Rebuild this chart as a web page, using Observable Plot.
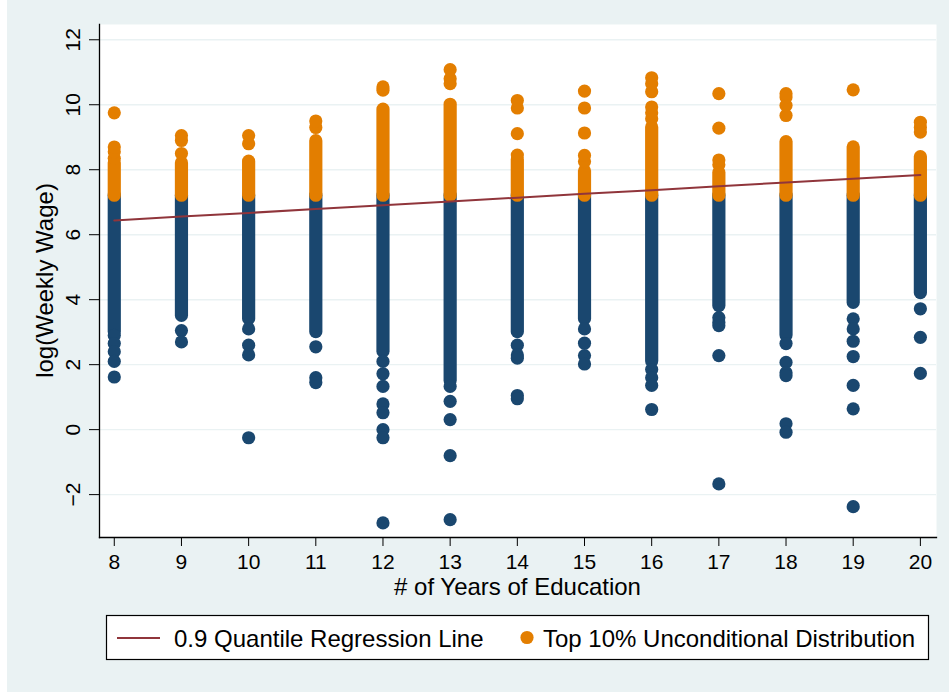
<!DOCTYPE html>
<html>
<head>
<meta charset="utf-8">
<script src="https://cdn.jsdelivr.net/npm/d3@7"></script>
<script src="https://cdn.jsdelivr.net/npm/@observablehq/plot@0.6"></script>
<style>
  html, body { margin: 0; padding: 0; background: #ffffff; }
  #chart { width: 949px; height: 692px; }
  #chart svg { display: block; }
</style>
</head>
<body>
<div id="chart"></div>
<script>
// Years of schooling shown on the x axis
const years = [8, 9, 10, 11, 12, 13, 14, 15, 16, 17, 18, 19, 20];

// Cut-off of the top 10% of the unconditional log weekly wage distribution
const top10Cut = 7.2;

// Lower end of the solid band of observations below the cut-off, per year
const bandLow = [3.0, 3.5, 3.4, 3.0, 2.4, 1.5, 3.0, 3.4, 2.1, 3.8, 2.9, 3.9, 4.2];
// Upper end of the solid band of observations above the cut-off, per year
const bandHigh = [8.2, 8.2, 8.25, 8.88, 9.85, 10.0, 8.3, 7.95, 9.3, 7.9, 8.85, 8.69, 8.39];

// Isolated low observations below the solid band, per year
const lowOutliers = [
  [2.9, 2.65, 2.4, 2.1, 1.62],
  [3.05, 2.7],
  [3.1, 2.6, 2.3, -0.25],
  [2.55, 1.6, 1.45],
  [2.1, 1.72, 1.33, 0.79, 0.52, 0.0, -0.25, -2.87],
  [1.33, 0.87, 0.31, -0.8, -2.77],
  [2.6, 2.3, 2.2, 1.05, 0.95],
  [3.1, 2.66, 2.28, 2.02],
  [1.85, 1.6, 1.36, 0.62],
  [3.45, 3.3, 3.2, 2.28, -1.67],
  [2.65, 2.07, 1.75, 1.66, 0.18, -0.08],
  [3.41, 3.1, 2.72, 2.25, 1.36, 0.64, -2.37],
  [3.72, 2.84, 1.73]
];

// Isolated high observations above the solid band, per year
const highOutliers = [
  [8.35, 8.55, 8.7, 9.75],
  [8.5, 8.9, 9.05],
  [8.8, 9.05],
  [9.3, 9.5],
  [10.45, 10.55],
  [10.65, 10.8, 11.08],
  [8.45, 9.11, 9.9, 10.13],
  [8.25, 8.44, 9.13, 9.9, 10.42],
  [9.57, 9.75, 9.93, 10.4, 10.65, 10.83],
  [8.15, 8.3, 9.28, 10.34],
  [9.67, 9.98, 10.24, 10.34],
  [10.46],
  [9.16, 9.3, 9.46]
];

// Fitted 0.9 quantile regression of log weekly wage on years of education
const qregFit = [6.44, 6.56, 6.67, 6.79, 6.91, 7.02, 7.14, 7.26, 7.37, 7.49, 7.61, 7.72, 7.84];

// Axis ticks
const xTicks = [8, 9, 10, 11, 12, 13, 14, 15, 16, 17, 18, 19, 20];
const yTicks = [-2, 0, 2, 4, 6, 8, 10, 12];

// Text
const xTitle = "# of Years of Education";
const yTitle = "log(Weekly Wage)";
const legendLine = "0.9 Quantile Regression Line";
const legendDot = "Top 10% Unconditional Distribution";

const navy = "#1a476f";
const orange = "#e37e00";
const maroon = "#90353b";
const panel = "#eaf2f3";
const font = "'Liberation Sans', Arial, Helvetica, sans-serif";
const dotR = 6.6;

// Tables built from the arrays above
const lowBands = years.map((x, i) => ({x, y1: bandLow[i], y2: top10Cut}));
const highBands = years.map((x, i) => ({x, y1: top10Cut, y2: bandHigh[i]}));
const lowPts = years.flatMap((x, i) => lowOutliers[i].map(y => ({x, y})));
const highPts = years.flatMap((x, i) => highOutliers[i].map(y => ({x, y})));
const fitPts = years.map((x, i) => ({x, y: qregFit[i]}));

const W = 949, H = 692;
const mL = 99, mR = 13, mT = 24, mB = 155;

const svg = Plot.plot({
  width: W,
  height: H,
  marginLeft: mL,
  marginRight: mR,
  marginTop: mT,
  marginBottom: mB,
  style: {fontFamily: font, fontSize: "21px", color: "#000", background: "transparent", overflow: "visible"},
  x: {domain: [7.78, 20.24]},
  y: {domain: [-3.32, 12.47]},
  marks: [
    Plot.frame({fill: "white", stroke: "none"}),
    Plot.gridY(yTicks, {stroke: panel, strokeOpacity: 1, strokeWidth: 1.4}),
    // dense part of each column: a run of overlapping markers
    Plot.ruleX(lowBands, {x: "x", y1: "y1", y2: "y2", stroke: navy, strokeWidth: dotR * 2, strokeLinecap: "round"}),
    Plot.dot(lowPts, {x: "x", y: "y", r: dotR, fill: navy, stroke: "none"}),
    Plot.ruleX(highBands, {x: "x", y1: "y1", y2: "y2", stroke: orange, strokeWidth: dotR * 2, strokeLinecap: "round"}),
    Plot.dot(highPts, {x: "x", y: "y", r: dotR, fill: orange, stroke: "none"}),
    Plot.line(fitPts, {x: "x", y: "y", stroke: maroon, strokeWidth: 2}),
    Plot.axisX(xTicks, {tickSize: 9, tickPadding: 8, fontSize: 21, label: null, stroke: "#000"}),
    Plot.axisY(yTicks, {tickSize: 10, tickPadding: 10, tickRotate: -90, fontSize: 21, label: null, stroke: "#000"}),
    Plot.frame({anchor: "left", stroke: "#000", strokeWidth: 1.3}),
    Plot.frame({anchor: "bottom", stroke: "#000", strokeWidth: 1.3})
  ]
});

const root = d3.select(svg);

// outer graph region
root.insert("rect", ":first-child")
  .attr("x", 7).attr("y", 0).attr("width", W - 7).attr("height", H)
  .attr("fill", panel);

const cx = (mL + (W - mR)) / 2;
const cy = (mT + (H - mB)) / 2;

root.append("text")
  .attr("x", cx).attr("y", 595)
  .attr("text-anchor", "middle")
  .attr("font-family", font).attr("font-size", 24).attr("fill", "#000")
  .text(xTitle);

root.append("text")
  .attr("transform", `translate(53,${cy}) rotate(-90)`)
  .attr("text-anchor", "middle")
  .attr("font-family", font).attr("font-size", 24).attr("fill", "#000")
  .text(yTitle);

// legend
const lg = root.append("g").attr("text-anchor", "start");
lg.append("rect")
  .attr("x", 106.5).attr("y", 615.5).attr("width", 822).attr("height", 44)
  .attr("fill", "white").attr("stroke", "#000").attr("stroke-width", 1.2);
lg.append("line")
  .attr("x1", 117).attr("x2", 160).attr("y1", 638).attr("y2", 638)
  .attr("stroke", maroon).attr("stroke-width", 2);
lg.append("text")
  .attr("x", 174).attr("y", 646.5)
  .attr("text-anchor", "start")
  .attr("font-family", font).attr("font-size", 24).attr("fill", "#000")
  .text(legendLine);
lg.append("circle")
  .attr("cx", 527).attr("cy", 637.5).attr("r", dotR)
  .attr("fill", orange);
lg.append("text")
  .attr("x", 543).attr("y", 646.5)
  .attr("text-anchor", "start")
  .attr("font-family", font).attr("font-size", 24).attr("fill", "#000")
  .text(legendDot);

document.getElementById("chart").appendChild(svg);
</script>
</body>
</html>
